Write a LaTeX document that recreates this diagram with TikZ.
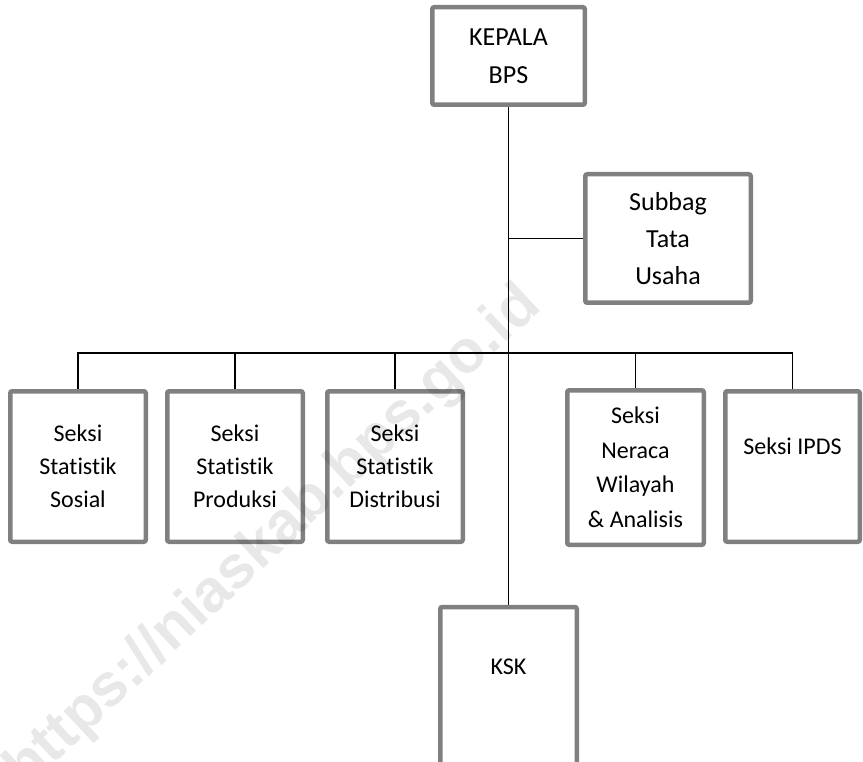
\documentclass[tikz,border=0pt]{standalone}
\usepackage{fontspec}
\setmainfont{Carlito}[Ligatures={NoCommon,NoRare,NoDiscretionary}]
\newfontfamily\wmfont{Liberation Sans}
\usetikzlibrary{backgrounds}
\definecolor{boxgray}{HTML}{808080}
\begin{document}
\begin{tikzpicture}[x=1pt,y=-1pt,
  orgbox/.style={draw=boxgray, line width=4.5pt, rounded corners=2pt, align=center,
    inner sep=0pt, font=\fontsize{24}{33}\selectfont},
  bigtext/.style={font=\fontsize{26}{37}\selectfont},
  link/.style={draw=black, line width=1.6pt}]
\useasboundingbox (0,0) rectangle (863,762);
\clip (0,0) rectangle (863,762);

\node[orgbox, font=\fontsize{26}{38}\selectfont, minimum width=152.5pt, minimum height=97.5pt] (kepala) at (508.5,56) {KEPALA\\BPS};
\node[orgbox, bigtext, minimum width=165.5pt, minimum height=128.5pt] (subbag) at (668,238.5) {Subbag\\Tata\\Usaha};

\node[orgbox, minimum width=135.5pt, minimum height=150.5pt] (s1) at (78,466.5) {Seksi\\Statistik\\Sosial};
\node[orgbox, minimum width=135.5pt, minimum height=150.5pt] (s2) at (235,466.5) {Seksi\\Statistik\\Produksi};
\node[orgbox, minimum width=135.5pt, minimum height=150.5pt] (s3) at (395,466.5) {Seksi\\Statistik\\Distribusi};
\node[orgbox, font=\fontsize{24}{34.5}\selectfont, minimum width=136.5pt, minimum height=154.5pt] (s4) at (635.5,467.5) {Seksi\\Neraca\\Wilayah\\\& Analisis};
\node[orgbox, minimum width=134.5pt, minimum height=150.5pt,
  label={[name=s5text, font=\fontsize{24}{33}\selectfont, yshift=20pt]center:Seksi IPDS}] (s5) at (792.5,466.5) {};
\node[orgbox, minimum width=136.5pt, minimum height=200pt,
  label={[name=ksktext, font=\fontsize{24}{33}\selectfont, yshift=40pt]center:KSK}] (ksk) at (508.5,707) {};

\coordinate (bus) at (509,353);

\begin{pgfonlayer}{background}
  \fill[white] (0,0) rectangle (863,762);
  \draw[link] (kepala.south) -- (ksk.north);
  \draw[link] (subbag.west -| kepala.south) -- (subbag.west);
  \draw[link] (s1.north) |- (bus);
  \draw[link] (s2.north) |- (bus);
  \draw[link] (s3.north) |- (bus);
  \draw[link] (s4.north) |- (bus);
  \draw[link] (s5.north) |- (bus);
\end{pgfonlayer}

\node[font=\wmfont\bfseries\fontsize{60}{60}\selectfont, text=black, text opacity=0.09,
  rotate=43, inner sep=0pt] (wm) at (274,538) {https://niaskab.bps.go.id};
\end{tikzpicture}
\end{document}
